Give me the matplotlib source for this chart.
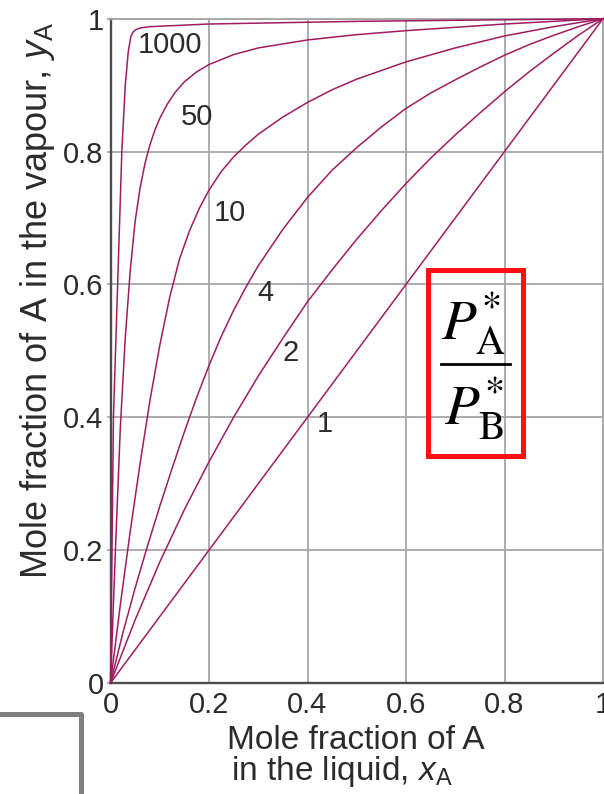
import matplotlib
matplotlib.use("Agg")
import matplotlib.pyplot as plt
from matplotlib.lines import Line2D
from matplotlib.patches import Rectangle

# Curves, one per vapour-pressure ratio P_A*/P_B*
ratio_labels = ["1000", "50", "10", "4", "2", "1"]

x_1000 = [0, 0.003, 0.006, 0.0145, 0.023, 0.03, 0.036, 0.041, 0.045, 0.05, 0.06, 0.08, 0.2, 0.5, 1.0]
y_1000 = [0, 0.2, 0.4, 0.6, 0.8, 0.9, 0.95, 0.972, 0.979, 0.983, 0.986, 0.988, 0.992, 0.996, 1.0]

x_50 = [0, 0.01, 0.02, 0.03, 0.04, 0.05, 0.06, 0.07, 0.08, 0.09, 0.1, 0.115, 0.13, 0.15,
        0.175, 0.2, 0.25, 0.3, 0.4, 0.5, 0.6, 0.8, 1.0]
y_50 = [0, 0.2, 0.385, 0.52, 0.62, 0.695, 0.745, 0.782, 0.81, 0.832, 0.85, 0.871, 0.888, 0.905,
        0.92, 0.931, 0.946, 0.956, 0.968, 0.976, 0.982, 0.992, 1.0]

x_10 = [0, 0.02, 0.04, 0.06, 0.08, 0.1, 0.12, 0.14, 0.16, 0.18, 0.2, 0.225, 0.25, 0.275,
        0.3, 0.35, 0.4, 0.45, 0.5, 0.6, 0.7, 0.8, 0.9, 1.0]
y_10 = [0, 0.118, 0.228, 0.33, 0.425, 0.508, 0.58, 0.638, 0.68, 0.714, 0.742, 0.77, 0.792, 0.81,
        0.826, 0.852, 0.874, 0.893, 0.909, 0.935, 0.956, 0.974, 0.988, 1.0]

x_4 = [0, 0.025, 0.05, 0.075, 0.1, 0.125, 0.15, 0.175, 0.2, 0.225, 0.25, 0.275, 0.3, 0.35,
       0.4, 0.45, 0.5, 0.55, 0.6, 0.65, 0.7, 0.75, 0.8, 0.85, 0.9, 0.95, 1.0]
y_4 = [0, 0.075, 0.143, 0.206, 0.266, 0.323, 0.378, 0.43, 0.478, 0.522, 0.561, 0.596, 0.628, 0.683,
       0.731, 0.772, 0.806, 0.837, 0.865, 0.888, 0.908, 0.927, 0.945, 0.961, 0.975, 0.988, 1.0]

x_2 = [0, 0.05, 0.1, 0.15, 0.2, 0.25, 0.3, 0.35, 0.4, 0.45, 0.5, 0.55, 0.6, 0.65, 0.7,
       0.75, 0.8, 0.85, 0.9, 0.95, 1.0]
y_2 = [0, 0.095, 0.182, 0.261, 0.333, 0.4, 0.462, 0.519, 0.574, 0.622, 0.668, 0.711, 0.752, 0.79, 0.825,
       0.858, 0.89, 0.92, 0.948, 0.975, 1.0]

x_1 = [0, 0.2, 0.4, 0.6, 0.8, 1.0]
y_1 = [0, 0.2, 0.4, 0.6, 0.8, 1.0]

ticks = [0, 0.2, 0.4, 0.6, 0.8, 1.0]
tick_labels = ["0", "0.2", "0.4", "0.6", "0.8", "1"]

plt.rcParams["font.family"] = ["Liberation Sans", "DejaVu Sans"]
plt.rcParams["mathtext.fontset"] = "custom"
plt.rcParams["mathtext.rm"] = "Liberation Sans"
plt.rcParams["mathtext.it"] = "Liberation Sans:italic"

W, H = 604, 794
fig = plt.figure(figsize=(W / 100, H / 100), dpi=100)
ax = fig.add_axes([110.5 / W, 1 - 683 / H, (603 - 110.5) / W, (683 - 18.7) / H])

text_col = "#2b2b2b"
curve_col = "#9e1d60"
grid_col = "#a6a6a6"

curves = [(x_1000, y_1000), (x_50, y_50), (x_10, y_10), (x_4, y_4), (x_2, y_2), (x_1, y_1)]
for xs, ys in curves:
    ax.plot(xs, ys, color=curve_col, lw=1.1, solid_joinstyle="round", zorder=3, clip_on=False)

# curve labels placed next to each line
label_pos = [(0.121, 0.960), (0.176, 0.852), (0.243, 0.707), (0.314, 0.587), (0.366, 0.497), (0.436, 0.390)]
for lab, (lx, ly) in zip(ratio_labels, label_pos):
    ax.text(lx, ly, lab, fontsize=21, color=text_col, ha="center", va="center", zorder=4)

ax.set_xlim(0, 1)
ax.set_ylim(0, 1)
ax.set_xticks(ticks)
ax.set_xticklabels(tick_labels)
ax.set_yticks(ticks)
ax.set_yticklabels(tick_labels)
ax.tick_params(axis="both", labelsize=21, labelcolor=text_col, colors=grid_col)
ax.tick_params(axis="x", length=0, pad=6)
ax.tick_params(axis="y", length=3, width=1.2, pad=2)
ax.grid(True, color=grid_col, lw=1.3, zorder=1)
for side in ["left", "bottom"]:
    ax.spines[side].set_color("#4d4d4d")
    ax.spines[side].set_linewidth(1.7)
for side in ["top", "right"]:
    ax.spines[side].set_color(grid_col)
    ax.spines[side].set_linewidth(1.3)

fig.text(38 / W, 1 - 301 / H, r"Mole fraction of A in the vapour, $y_\mathrm{A}$",
         rotation=90, fontsize=26, color=text_col, ha="center", va="center")
fig.text(356 / W, 1 - 749 / H, "Mole fraction of A", fontsize=24, color=text_col,
         ha="center", va="baseline")
fig.text(342 / W, 1 - 780 / H, r"in the liquid, $x_\mathrm{A}$", fontsize=24, color=text_col,
         ha="center", va="baseline")

# boxed ratio P_A*/P_B*
fig.text(474 / W, 1 - 340 / H, r"$P_\mathrm{A}^{*}$", fontsize=41, math_fontfamily="stix",
         color="black", ha="center", va="baseline")
fig.text(474 / W, 1 - 425 / H, r"$P_\mathrm{B}^{*}$", fontsize=41, math_fontfamily="stix",
         color="black", ha="center", va="baseline")
fig.add_artist(Line2D([440.7 / W, 510 / W], [1 - 364 / H, 1 - 364 / H], color="black", lw=2))
fig.add_artist(Rectangle((428 / W, 1 - 456 / H), (523 - 428) / W, (456 - 270) / H,
                         transform=fig.transFigure, fill=False, edgecolor="#ff1010", lw=3.6))

# grey corner frame from the slide
fig.add_artist(Line2D([0, 81 / W, 81 / W], [1 - 714 / H, 1 - 714 / H, 0], color="#7f7f7f", lw=3.6))

fig.savefig("out.png", dpi=100)
